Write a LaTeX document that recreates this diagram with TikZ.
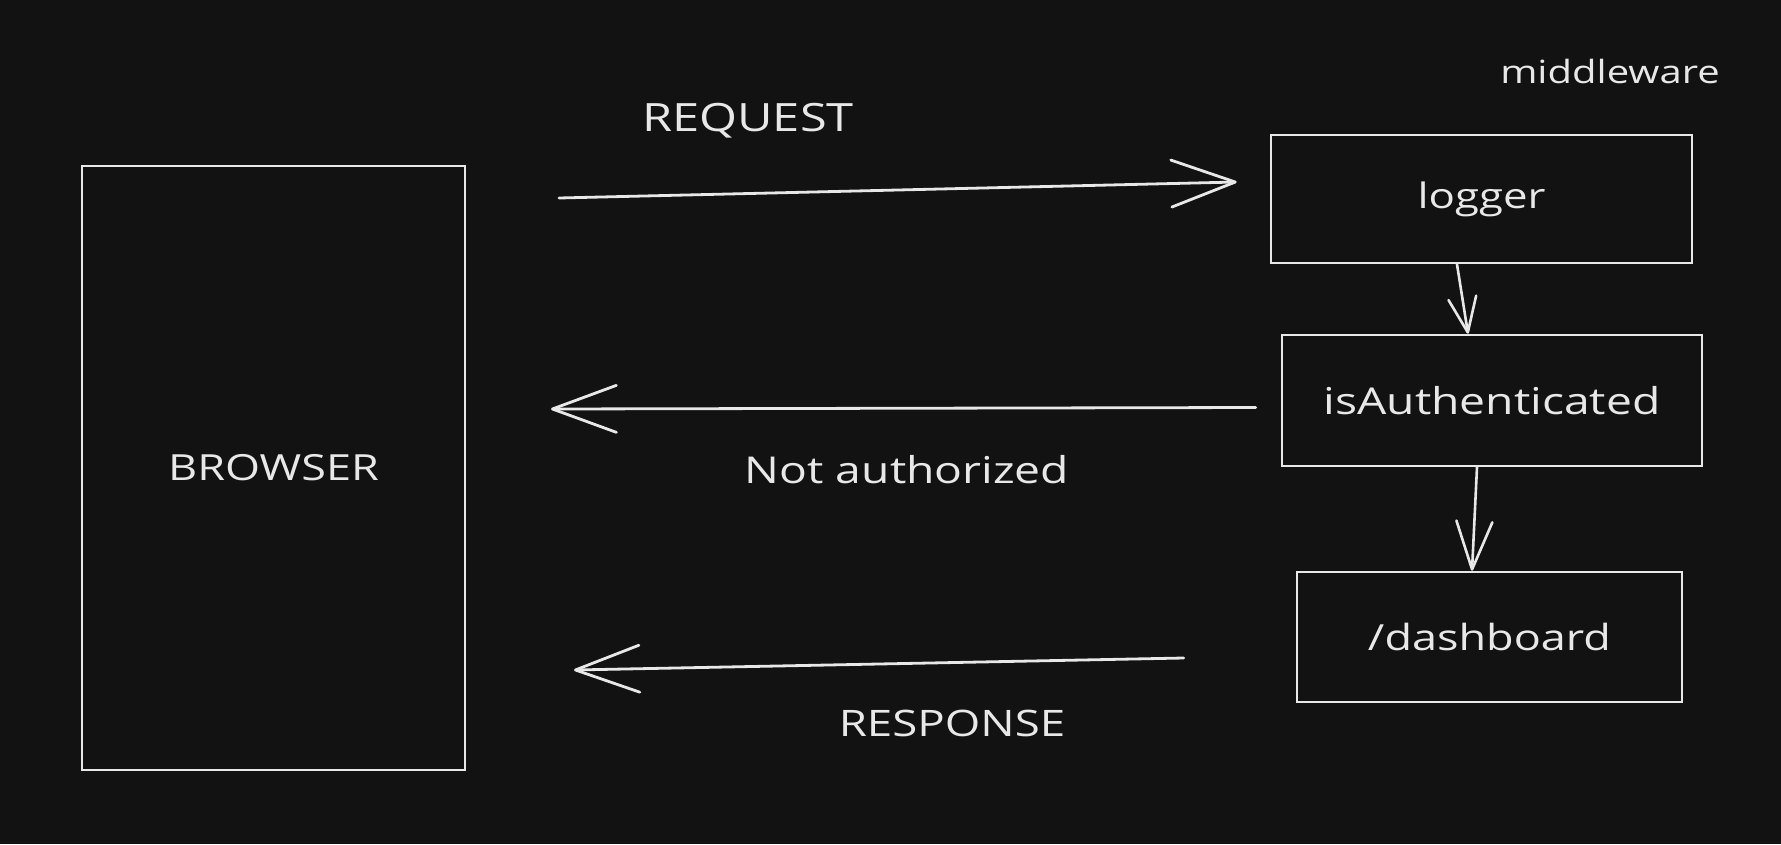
\documentclass[tikz,border=0pt]{standalone}
\usepackage{fontspec}
\setmainfont{Open Sans}[FakeStretch=1.25]
\usetikzlibrary{arrows.meta}
\definecolor{bgc}{HTML}{121212}
\definecolor{ink}{HTML}{E8E8E8}
\tikzset{
  box/.style={draw=ink, line width=2.6pt, text=ink, inner sep=0pt,
    font=\fontsize{35}{40}\selectfont},
  lbl/.style={text=ink, inner sep=0pt, font=\fontsize{35}{40}\selectfont},
  conn/.style={draw=ink, line width=2.8pt, line cap=round, line join=round,
    -{Straight Barb[length=64pt,width=47pt,round]}},
  vconnA/.style={draw=ink, line width=2.6pt, line cap=round, line join=round,
    -{Straight Barb[length=35pt,width=28pt,round]}},
  vconnB/.style={draw=ink, line width=2.6pt, line cap=round, line join=round,
    -{Straight Barb[length=48pt,width=36pt,round]}}
}
\begin{document}
\begin{tikzpicture}[x=1pt,y=-1pt]
\fill[bgc] (0,0) rectangle (1781,844);
\useasboundingbox (0,0) rectangle (1781,844);

\node[box, minimum width=383pt, minimum height=604pt, font=\fontsize{36}{40}\selectfont] (browser) at (273.5,468) {BROWSER};
\node[box, minimum width=421pt, minimum height=128pt] (logger) at (1481.5,199) {logger};
\node[box, minimum width=420pt, minimum height=131pt, font=\fontsize{37}{42}\selectfont] (auth) at (1492,400.5) {isAuthenticated};
\node[box, minimum width=385pt, minimum height=130pt, font=\fontsize{36}{40}\selectfont] (dash) at (1489.5,637) {/dashboard};

\node[lbl, anchor=base, font=\fontsize{32}{36}\selectfont] (mw) at (1610,83) {middleware};
\node[lbl, font=\fontsize{39}{44}\selectfont] (req) at (748,121) {REQUEST};
\node[lbl, font=\fontsize{37}{42}\selectfont] (na) at (907,470) {Not authorized};
\node[lbl, font=\fontsize{36.5}{42}\selectfont] (resp) at (952,723) {RESPONSE};

\coordinate (reqs) at (559,198);
\coordinate (nae) at (551,409);
\coordinate (respe) at (574,670);

\draw[conn] (reqs) -- ([xshift=-33pt,yshift=17pt]logger.west);
\draw[conn] ([xshift=-25pt,yshift=-7pt]auth.west) -- (nae);
\draw[conn] ([xshift=-112pt,yshift=-21pt]dash.west) -- (respe);

\draw[vconnA] ([xshift=-24.5pt]logger.south) -- ([xshift=-24pt]auth.north);
\draw[vconnB] ([xshift=-15pt]auth.south) -- ([xshift=-17.5pt]dash.north);
\end{tikzpicture}
\end{document}
